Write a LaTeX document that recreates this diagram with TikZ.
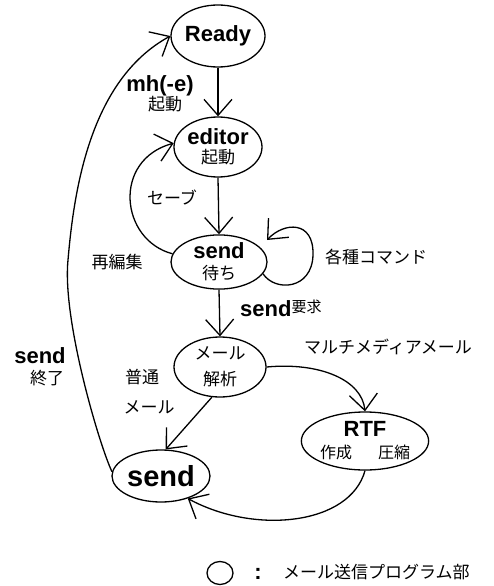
\documentclass[tikz,border=0pt]{standalone}
\usepackage{fontspec}
\setmainfont{Liberation Sans}
\newfontfamily\hv{Liberation Sans}
\newfontfamily\jp{Noto Sans CJK JP}
\usetikzlibrary{arrows.meta,shapes.geometric}
\newcommand\mybf{\hv\bfseries\fontsize{22}{24}\selectfont}
\newcommand\myja{\jp\fontsize{17}{20}\selectfont}
\begin{document}
\begin{tikzpicture}[x=1pt,y=-1pt,
  st/.style={draw, ellipse, line width=1.3pt, inner sep=0pt, align=center},
  arr/.style={line width=1.3pt, -{Straight Barb[length=16pt,width=28pt,line width=1.3pt]}},
  ja/.style={font=\myja, inner sep=0pt},
  lbl/.style={inner sep=0pt}]
\useasboundingbox (0,0) rectangle (493,586);

% states
\node[st, minimum width=94pt, minimum height=62pt, font=\mybf] (ready) at (218,36) {Ready};
\node[st, minimum width=88pt, minimum height=60pt, font=\jp\fontsize{17}{19}\selectfont] (editor) at (218,147) {{\mybf editor}\\起動};
\node[st, minimum width=96pt, minimum height=54pt, font=\jp\fontsize{17}{21}\selectfont] (send1) at (219,262) {{\mybf send}\\待ち};
\node[st, minimum width=92pt, minimum height=60pt, font=\jp\fontsize{17}{26}\selectfont] (mailan) at (220,367) {メール\\解析};
\node[st, minimum width=126pt, minimum height=58pt, font=\jp\fontsize{16}{22}\selectfont] (rtf) at (365,441) {{\mybf RTF}\\作成\hspace{26pt}圧縮};
\node[st, minimum width=98pt, minimum height=52pt, font=\hv\bfseries\fontsize{29}{30}\selectfont] (send2) at (161,476) {send};

% connectors
\draw[arr] (ready.south) -- (editor.north);
\draw[arr] (editor.south) -- (send1.north);
\draw[arr] (send1.170) .. controls (120,240) and (112,160) .. (editor.175);
\coordinate (loopend) at (267,240);
\draw[arr] (send1.-15) .. controls (275,292) and (312,290) .. (313,255)
  .. controls (314,220) and (284,222) .. (loopend);
\draw[arr] (send1.south) -- (mailan.north);
\draw[arr] (mailan.east) .. controls (320,362) and (362,380) .. (rtf.north);
\draw[arr] (mailan.255) -- (send2.80);
\draw[arr] (rtf.south) .. controls (350,525) and (255,535) .. (send2.-40);
\draw[arr] (send2.175) .. controls (100,447) and (62,320) .. (68,260)
  .. controls (74,190) and (90,80) .. (ready.west);

% labels
\node[lbl, font=\mybf, anchor=base] (lmh) at (160,91) {mh(-e)};
\node[ja] (lki) at (165,104) {起動};
\node[ja] (lsave) at (172,198) {セーブ};
\node[ja] (lre) at (117,262) {再編集};
\node[ja] (lcmd) at (376,257) {各種コマンド};
\node[lbl, anchor=base west] (lreq) at (240,316) {{\mybf send}\raisebox{4pt}{\jp\fontsize{15}{15}\selectfont 要求}};
\node[ja] (lmm) at (388,347) {マルチメディアメール};
\node[ja] (lfu) at (142,377) {普通};
\node[ja] (lfm) at (149,407) {メール};
\node[lbl, font=\mybf, anchor=base] (lsend) at (40,363) {send};
\node[ja] (lend) at (47,378) {終了};

% legend
\node[draw, ellipse, line width=1.3pt, inner sep=0pt, minimum width=26pt, minimum height=23pt] (legc) at (220,573) {};
\node[lbl, font=\mybf] (lcolon) at (258,574) {:};
\node[ja, anchor=west] (legt) at (283,572) {メール送信プログラム部};
\end{tikzpicture}
\end{document}
